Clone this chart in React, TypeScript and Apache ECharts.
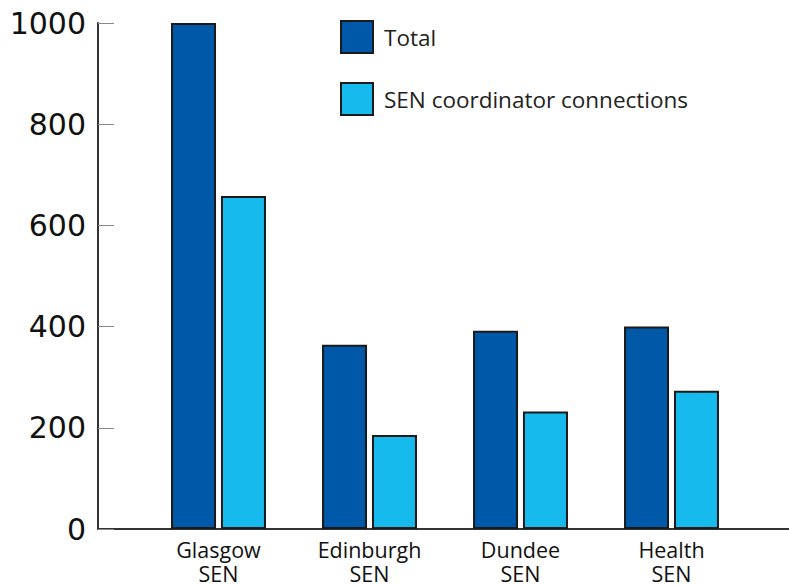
import React, { useEffect, useRef } from "react";
import * as echarts from "echarts";

const categories = ["Glasgow\nSEN", "Edinburgh\nSEN", "Dundee\nSEN", "Health\nSEN"];
const totalValues = [1000, 364, 392, 400];
const senValues = [658, 186, 232, 273];
const seriesNames = ["Total", "SEN coordinator connections"];
const yTicks = [0, 200, 400, 600, 800, 1000];

export default function App() {
  const ref = useRef<HTMLDivElement>(null);
  useEffect(() => {
    if (!ref.current) return;
    const chart = echarts.init(ref.current, null, { renderer: "svg" });
    const font = "DejaVu Sans";
    chart.setOption({
      animation: false,
      backgroundColor: "#ffffff",
      legend: {
        orient: "vertical",
        left: 340,
        top: 20,
        padding: 0,
        itemWidth: 32,
        itemHeight: 32,
        itemGap: 28,
        icon: "rect",
        data: seriesNames,
        textStyle: { fontFamily: "Open Sans", fontSize: 22.5, color: "#222", padding: [0, 0, 0, 6] },
      },
      grid: [
        { left: 143, right: 42, top: 23, bottom: 56 },
        { left: 98, right: 0, top: 23, bottom: 56 },
      ],
      xAxis: [
        {
          type: "category",
          gridIndex: 0,
          data: categories,
          axisLine: { show: false },
          axisTick: { show: false },
          axisLabel: {
            fontFamily: "Open Sans",
            fontSize: 21.5,
            color: "#111",
            lineHeight: 24,
            margin: 8,
          },
        },
        {
          type: "value",
          gridIndex: 1,
          min: 0,
          max: 1,
          axisLine: { show: true, lineStyle: { color: "#333", width: 2 } },
          axisTick: { show: false },
          axisLabel: { show: false },
          splitLine: { show: false },
        },
      ],
      yAxis: [
        {
          type: "value",
          gridIndex: 0,
          min: 0,
          max: 1000,
          interval: 200,
          offset: 45,
          axisLine: { show: true, lineStyle: { color: "#333", width: 2 } },
          axisTick: { show: true, inside: true, length: 16, lineStyle: { color: "#888", width: 1 } },
          axisLabel: {
            fontFamily: font,
            fontSize: 30,
            color: "#111",
            margin: 12,
            formatter: (v: number) => (yTicks.includes(v) ? String(v) : ""),
          },
          splitLine: { show: false },
        },
        {
          type: "value",
          gridIndex: 1,
          min: 0,
          max: 1,
          show: false,
        },
      ],
      series: [
        {
          name: seriesNames[0],
          type: "bar",
          xAxisIndex: 0,
          yAxisIndex: 0,
          data: totalValues,
          barWidth: 45,
          barGap: "11%",
          itemStyle: { color: "#0058A9", borderColor: "#1a1a1a", borderWidth: 2 },
        },
        {
          name: seriesNames[1],
          type: "bar",
          xAxisIndex: 0,
          yAxisIndex: 0,
          data: senValues,
          barWidth: 45,
          barGap: "11%",
          itemStyle: { color: "#16BAEC", borderColor: "#1a1a1a", borderWidth: 2 },
        },
      ],
    });
    return () => chart.dispose();
  }, []);
  return (
    <div
      ref={ref}
      style={{ position: "absolute", left: 0, top: 0, width: 789, height: 585 }}
    />
  );
}
